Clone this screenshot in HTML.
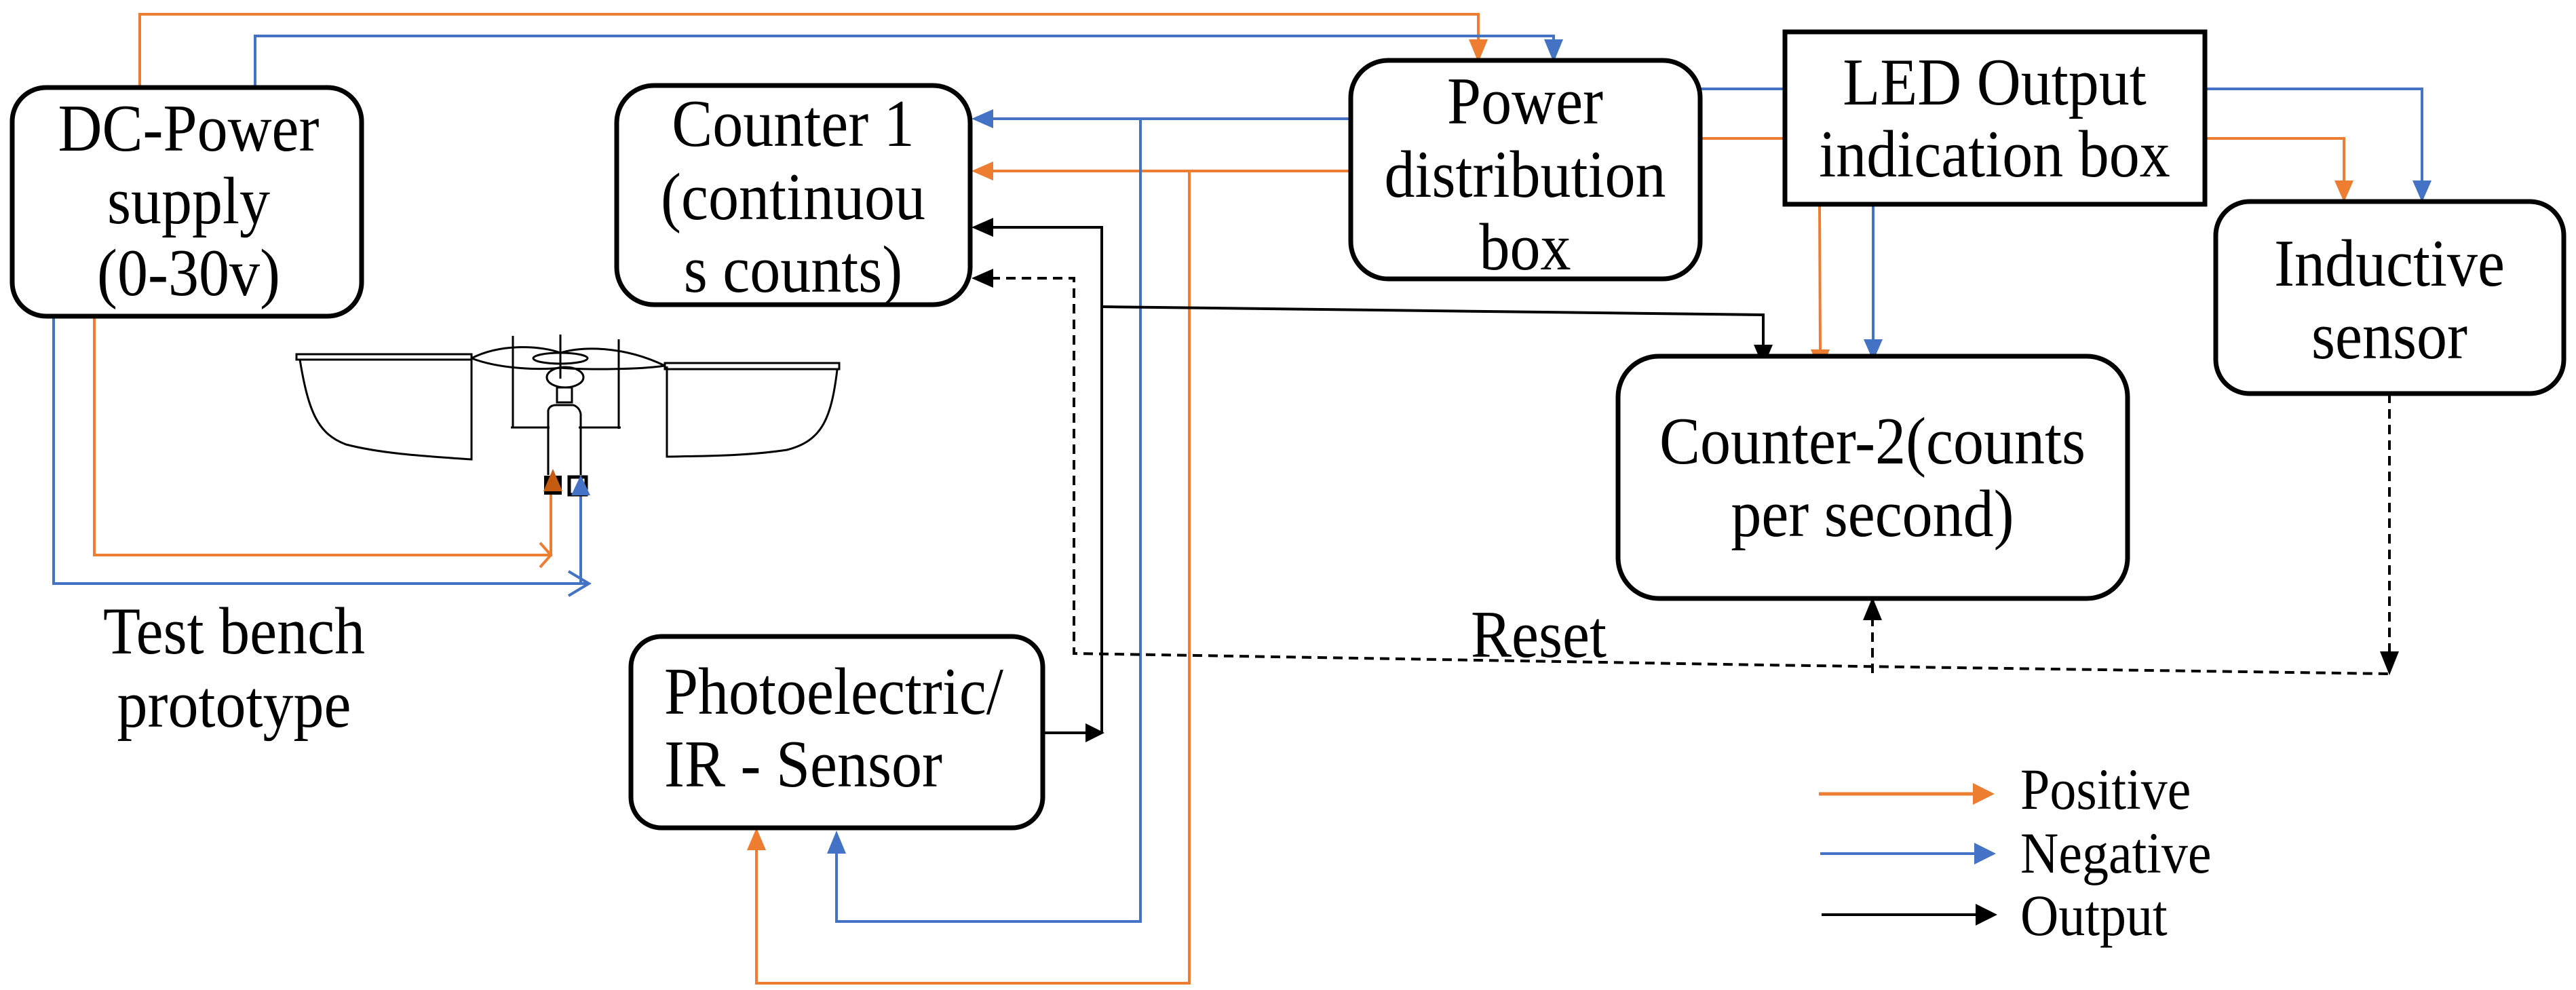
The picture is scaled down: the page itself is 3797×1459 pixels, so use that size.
<!DOCTYPE html>
<html><head><meta charset="utf-8"><style>
html,body{margin:0;padding:0;background:#fff;}
#wrap{position:relative;width:3797px;height:1459px;overflow:hidden;}
svg{display:block;position:absolute;left:0;top:0;}
.t{position:absolute;font-family:"Liberation Serif","Times New Roman","DejaVu Serif",serif;font-size:90px;line-height:90px;height:90px;color:#000;white-space:nowrap;transform:scaleY(1.1);transform-origin:50% 75px;}
.c{width:800px;text-align:center;}
.l{font-size:78px;line-height:78px;height:78px;transform-origin:0 65px;}
</style></head><body>
<div id="wrap">
<svg width="3797" height="1459" viewBox="0 0 3797 1459" xmlns="http://www.w3.org/2000/svg">
<polyline stroke="#ED7D31" stroke-width="4" fill="none" points="206,129 206,21 2179,21 2179,62" />
<path d="M2165,58 L2193,58 L2179,92 z" fill="#ED7D31"/>
<polyline stroke="#4472C4" stroke-width="4" fill="none" points="376,129 376,53 2290,53 2290,62" />
<path d="M2276,58 L2304,58 L2290,92 z" fill="#4472C4"/>

<polyline stroke="#4472C4" stroke-width="4" fill="none" points="1991,175 1460,175" />
<path d="M1464,161 L1464,189 L1432,175 z" fill="#4472C4"/>
<polyline stroke="#ED7D31" stroke-width="4" fill="none" points="1991,252 1460,252" />
<path d="M1464,238 L1464,266 L1432,252 z" fill="#ED7D31"/>
<polyline stroke="#4472C4" stroke-width="4" fill="none" points="1681,175 1681,1358 1233,1358 1233,1255" />
<path d="M1219,1258 L1247,1258 L1233,1224 z" fill="#4472C4"/>
<polyline stroke="#ED7D31" stroke-width="4" fill="none" points="1753,252 1753,1449 1115,1449 1115,1250" />
<path d="M1101,1253 L1129,1253 L1115,1220 z" fill="#ED7D31"/>

<line stroke="#4472C4" stroke-width="4" x1="2506" y1="131" x2="2631" y2="131"/>
<line stroke="#ED7D31" stroke-width="4" x1="2506" y1="204" x2="2631" y2="204"/>
<polyline stroke="#4472C4" stroke-width="4" fill="none" points="3250,131 3570,131 3570,268"/>
<path d="M3556,266 L3584,266 L3570,298 z" fill="#4472C4"/>
<polyline stroke="#ED7D31" stroke-width="4" fill="none" points="3250,204 3455,204 3455,268"/>
<path d="M3441,266 L3469,266 L3455,298 z" fill="#ED7D31"/>
<polyline stroke="#ED7D31" stroke-width="4" fill="none" points="2682,301 2683,520"/>
<path d="M2669,515 L2697,515 L2683,548 z" fill="#ED7D31"/>
<polyline stroke="#4472C4" stroke-width="4" fill="none" points="2761,301 2761,505"/>
<path d="M2747,500 L2775,500 L2761,532 z" fill="#4472C4"/>

<polyline stroke="#000" stroke-width="4" fill="none" points="1537,1080 1610,1080"/>
<path d="M1600,1066 L1600,1094 L1628,1080 z" fill="#000"/>
<polyline stroke="#000" stroke-width="4" fill="none" points="1624,1080 1624,335 1460,335"/>
<path d="M1464,321 L1464,349 L1432,335 z" fill="#000"/>
<polyline stroke="#000" stroke-width="4" fill="none" points="1624,452 2599,464 2599,512"/>
<path d="M2585,508 L2613,508 L2599,541 z" fill="#000"/>

<polyline stroke="#000" stroke-width="4" fill="none" stroke-dasharray="14,9" points="1460,410 1583,410 1583,963 2600,980 3522,993"/>
<path d="M1464,396 L1464,424 L1432,410 z" fill="#000"/>
<polyline stroke="#000" stroke-width="4" fill="none" stroke-dasharray="14,9" points="3522,580 3522,962"/>
<path d="M3508,960 L3536,960 L3522,995 z" fill="#000"/>
<polyline stroke="#000" stroke-width="4" fill="none" stroke-dasharray="14,9" points="2760,992 2760,912"/>
<path d="M2746,914 L2774,914 L2760,880 z" fill="#000"/>

<polyline stroke="#ED7D31" stroke-width="4" fill="none" points="139,466 139,818 812,818 812,720"/>
<polyline stroke="#ED7D31" stroke-width="4" fill="none" points="796,800 812,818 796,836"/>
<polyline stroke="#4472C4" stroke-width="4" fill="none" points="79,466 79,860 868,860"/>
<polyline stroke="#4472C4" stroke-width="4" fill="none" points="838,842 868,860 838,878"/>
<polyline stroke="#4472C4" stroke-width="4" fill="none" points="856,860 856,728"/>

<g stroke="#000" stroke-width="3" fill="none">
<rect x="437" y="522" width="258" height="8"/>
<path d="M442,530 C455,610 470,640 510,655 C560,668 620,672 695,677 L695,530"/>
<rect x="980" y="535" width="257" height="9"/>
<path d="M1234,545 C1225,620 1210,650 1160,663 C1100,672 1040,672 983,673 L983,540"/>
<path d="M695,528 C740,505 800,510 826,520 C860,510 920,510 980,539"/>
<path d="M695,528 C740,545 800,545 826,542 C860,545 940,545 980,539"/>
<ellipse cx="826" cy="528" rx="40" ry="8"/>
<line x1="756" y1="495" x2="756" y2="630"/>
<line x1="912" y1="500" x2="912" y2="632"/>
<line x1="753" y1="630" x2="810" y2="630"/>
<line x1="853" y1="630" x2="915" y2="630"/>
<line x1="826" y1="493" x2="826" y2="558"/>
<ellipse cx="833" cy="556" rx="27" ry="15"/>
<rect x="821" y="571" width="22" height="22"/>
<path d="M808,700 L808,605 Q810,597 820,597 L845,597 Q854,600 856,610 L856,700"/>
</g>
<rect x="802" y="701" width="26" height="28" fill="#000"/>
<rect x="839" y="703" width="25" height="26" fill="none" stroke="#000" stroke-width="5"/>
<path d="M801,724 L829,724 L815,691 z" fill="#C55A11"/>
<path d="M842,730 L870,730 L856,700 z" fill="#4472C4"/>

<g stroke="#000" stroke-width="7" fill="#fff">
<rect x="18" y="129" width="515" height="337" rx="50"/>
<rect x="909" y="126" width="521" height="323" rx="55"/>
<rect x="1991" y="89" width="515" height="322" rx="55"/>
<rect x="2631" y="47" width="619" height="254"/>
<rect x="3266" y="297" width="513" height="283" rx="50"/>
<rect x="2385" y="525" width="751" height="357" rx="60"/>
<rect x="930" y="938" width="607" height="282" rx="45"/>
</g>

<line x1="2681" y1="1170" x2="2912" y2="1170" stroke="#ED7D31" stroke-width="5"/>
<path d="M2908,1154 L2908,1186 L2940,1170 z" fill="#ED7D31"/>
<line x1="2683" y1="1258" x2="2914" y2="1258" stroke="#4472C4" stroke-width="4"/>
<path d="M2910,1242 L2910,1274 L2942,1258 z" fill="#4472C4"/>
<line x1="2685" y1="1348" x2="2916" y2="1348" stroke="#000" stroke-width="4"/>
<path d="M2912,1332 L2912,1364 L2944,1348 z" fill="#000"/>
</svg>

<div class="t c" style="left:-122px;top:148px">DC-Power</div>
<div class="t c" style="left:-122px;top:255px">supply</div>
<div class="t c" style="left:-122px;top:361px">(0-30v)</div>
<div class="t c" style="left:769px;top:141px">Counter 1</div>
<div class="t c" style="left:769px;top:249px">(continuou</div>
<div class="t c" style="left:769px;top:356px">s counts)</div>
<div class="t c" style="left:1848px;top:108px">Power</div>
<div class="t c" style="left:1848px;top:216px">distribution</div>
<div class="t c" style="left:1848px;top:323px">box</div>
<div class="t c" style="left:2540px;top:80px">LED Output</div>
<div class="t c" style="left:2540px;top:186px">indication box</div>
<div class="t c" style="left:3122px;top:347px">Inductive</div>
<div class="t c" style="left:3122px;top:454px">sensor</div>
<div class="t c" style="left:2360px;top:609px">Counter-2(counts</div>
<div class="t c" style="left:2360px;top:716px">per second)</div>
<div class="t c" style="left:-55px;top:889px">Test bench</div>
<div class="t c" style="left:-55px;top:997px">prototype</div>
<div class="t c" style="left:1868px;top:894px">Reset</div>
<div class="t" style="left:979px;top:978px;transform-origin:0 75px">Photoelectric/</div>
<div class="t" style="left:979px;top:1085px;transform-origin:0 75px">IR - Sensor</div>

<div class="t l" style="left:2978px;top:1127px">Positive</div>
<div class="t l" style="left:2978px;top:1221px">Negative</div>
<div class="t l" style="left:2978px;top:1313px">Output</div>
</div>
</body></html>
